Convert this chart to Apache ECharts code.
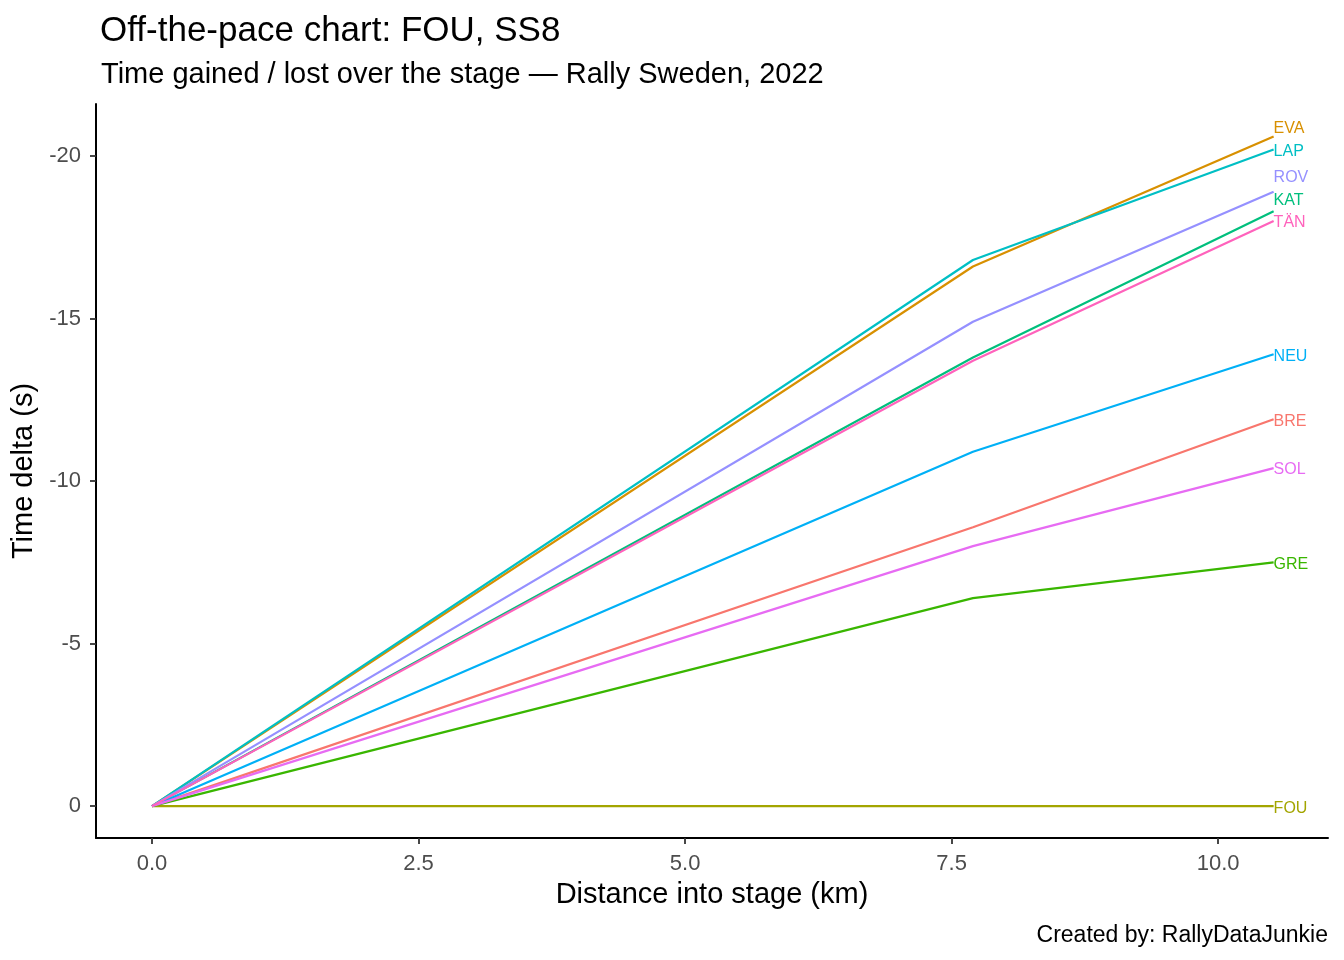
<!DOCTYPE html>
<html>
<head>
<meta charset="utf-8">
<script src="https://cdn.jsdelivr.net/npm/echarts@6/dist/echarts.min.js"></script>
<style>html,body{margin:0;padding:0;background:#fff}#c{width:1344px;height:960px}</style>
</head>
<body>
<div id="c"></div>
<script>
var distance = [0, 7.7, 10.52];
var drivers = ['BRE','EVA','FOU','GRE','KAT','LAP','NEU','ROV','SOL','TÄN'];
var BRE = [0, -8.58, -11.9];
var EVA = [0, -16.6, -20.6];
var FOU = [0, 0, 0];
var GRE = [0, -6.4, -7.5];
var KAT = [0, -13.8, -18.3];
var LAP = [0, -16.8, -20.2];
var NEU = [0, -10.9, -13.9];
var ROV = [0, -14.9, -18.9];
var SOL = [0, -8.0, -10.4];
var TAN = [0, -13.7, -18.0];
var xTicks = [0, 2.5, 5, 7.5, 10];
var yTicks = [0, -5, -10, -15, -20];

var values = {BRE:BRE,EVA:EVA,FOU:FOU,GRE:GRE,KAT:KAT,LAP:LAP,NEU:NEU,ROV:ROV,SOL:SOL,'TÄN':TAN};
var colors = {BRE:'#F8766D',EVA:'#D89000',FOU:'#A3A500',GRE:'#39B600',KAT:'#00BF7D',LAP:'#00BFC4',NEU:'#00B0F6',ROV:'#9590FF',SOL:'#E76BF3','TÄN':'#FF62BC'};
var labelShift = {EVA:-10,ROV:-16,KAT:-13};

var font = 'Liberation Sans, Arial, Helvetica, sans-serif';
var series = drivers.map(function(d){
  return {
    name: d, type: 'line', symbol: 'none', animation: false,
    data: distance.map(function(x,i){ return [x, values[d][i]]; }),
    lineStyle: {color: colors[d], width: 2.2},
    itemStyle: {color: colors[d]},
    endLabel: {show: true, formatter: d, color: colors[d], fontSize: 16, fontFamily: font,
      distance: 0, offset: [0, (labelShift[d] || 0) + 2]},
    z: 2
  };
});

var chart = echarts.init(document.getElementById('c'));
chart.setOption({
  animation: false,
  backgroundColor: '#fff',
  title: [
    {text: 'Off-the-pace chart: FOU, SS8', left: 95, top: 9, textStyle:{fontSize:35, fontWeight:'normal', color:'#000', fontFamily:font}},
    {text: 'Time gained / lost over the stage — Rally Sweden, 2022', left: 96, top: 55, textStyle:{fontSize:29, fontWeight:'normal', color:'#000', fontFamily:font}},
    {text: 'Created by: RallyDataJunkie', right: 11, top: 919, textStyle:{fontSize:23, fontWeight:'normal', color:'#000', fontFamily:font}}
  ],
  grid: {left: 96, right: 16, top: 104, bottom: 122, containLabel: false},
  xAxis: {
    type: 'value', min: -0.525, max: 11.03,
    name: 'Distance into stage (km)', nameLocation: 'middle', nameGap: 42,
    nameTextStyle: {fontSize: 29, color: '#000', fontFamily: font},
    axisLine: {show: true, onZero: false, lineStyle: {color: '#000', width: 2}},
    axisTick: {show: true, length: 6, lineStyle: {color: '#333', width: 1.8}, customValues: xTicks},
    axisLabel: {color: '#4D4D4D', fontSize: 22, fontFamily: font, margin: 15, customValues: xTicks,
      formatter: function(v){ return v.toFixed(1); }},
    splitLine: {show: false}
  },
  yAxis: {
    type: 'value', inverse: true, min: -21.6, max: 0.98,
    name: 'Time delta (s)', nameLocation: 'middle', nameGap: 47, nameRotate: 90,
    nameTextStyle: {fontSize: 29, color: '#000', fontFamily: font},
    axisLine: {show: true, onZero: false, lineStyle: {color: '#000', width: 2}},
    axisTick: {show: true, length: 6, lineStyle: {color: '#333', width: 1.8}, customValues: yTicks},
    axisLabel: {color: '#4D4D4D', fontSize: 22, fontFamily: font, margin: 15, customValues: yTicks},
    splitLine: {show: false}
  },
  series: series
});
</script>
</body>
</html>
